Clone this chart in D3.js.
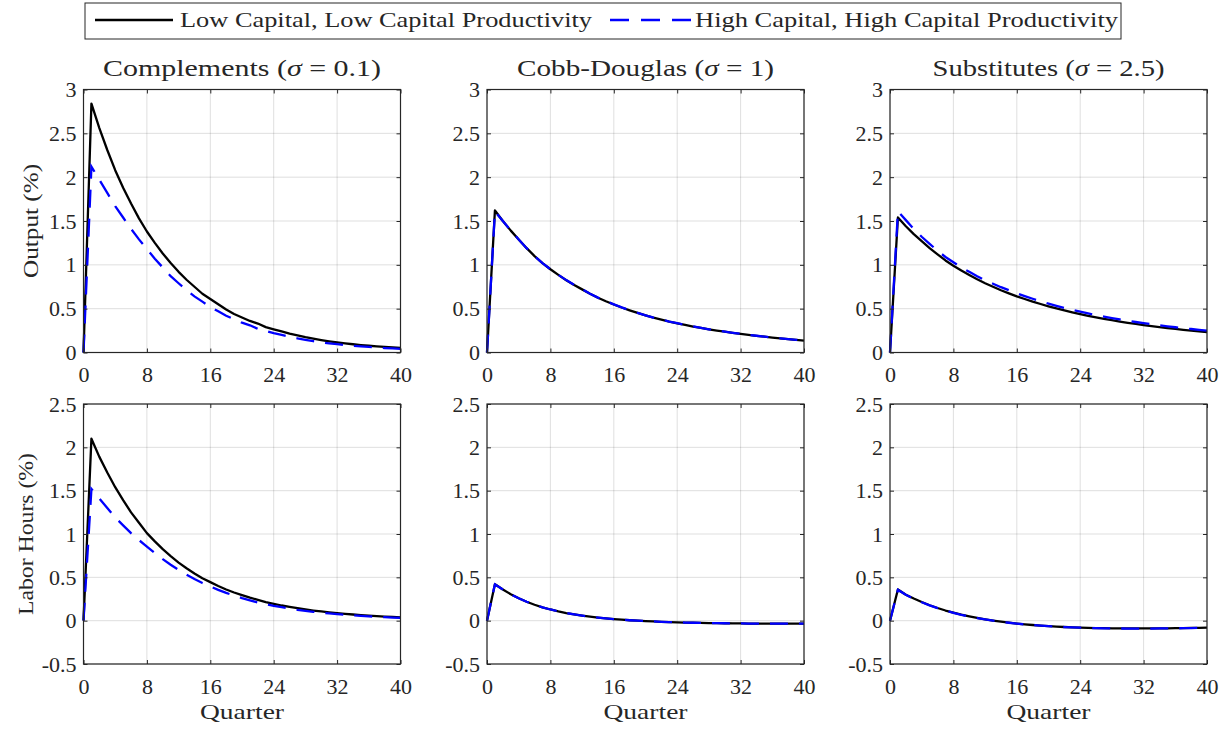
<!DOCTYPE html>
<html>
<head>
<meta charset="utf-8">
<script src="https://cdn.jsdelivr.net/npm/d3@7"></script>
<style>
  html, body { margin: 0; padding: 0; background: #fff; }
  svg { display: block; }
  text { font-family: "Liberation Serif", "Times New Roman", serif; fill: #262626; }
</style>
</head>
<body>
<svg id="chart" width="1230" height="730"></svg>
<script>
// ---------------- DATA ----------------
const quarters = [0,1,2,3,4,5,6,7,8,9,10,11,12,13,14,15,16,17,18,19,20,21,22,23,24,25,26,27,28,29,30,31,32,33,34,35,36,37,38,39,40];

const seriesNames = ["Low Capital, Low Capital Productivity", "High Capital, High Capital Productivity"];
const panelTitles = ["Complements", "Cobb-Douglas", "Substitutes"];
const sigmaValues = ["0.1", "1", "2.5"];
const rowLabels = ["Output (%)", "Labor Hours (%)"];
const xLabel = "Quarter";

const xTicks = [0, 8, 16, 24, 32, 40];
const yTicksOutput = [0, 0.5, 1, 1.5, 2, 2.5, 3];
const yTicksHours = [-0.5, 0, 0.5, 1, 1.5, 2, 2.5];

// Output responses
const compOutLow  = [0, 2.84, 2.56, 2.31, 2.08, 1.88, 1.70, 1.53, 1.38, 1.25, 1.13, 1.02, 0.92, 0.83, 0.75, 0.67, 0.61, 0.55, 0.49, 0.44, 0.40, 0.36, 0.33, 0.29, 0.265, 0.24, 0.215, 0.195, 0.175, 0.158, 0.142, 0.128, 0.115, 0.104, 0.094, 0.085, 0.077, 0.070, 0.063, 0.057, 0.052];
const compOutHigh = [0, 2.12, 1.97, 1.82, 1.67, 1.54, 1.41, 1.29, 1.18, 1.07, 0.97, 0.87, 0.79, 0.71, 0.64, 0.58, 0.52, 0.47, 0.42, 0.38, 0.34, 0.31, 0.27, 0.245, 0.22, 0.20, 0.18, 0.16, 0.145, 0.13, 0.115, 0.105, 0.095, 0.085, 0.077, 0.070, 0.063, 0.057, 0.051, 0.046, 0.041];
const cdOutLow    = [0, 1.62, 1.50, 1.39, 1.29, 1.19, 1.10, 1.02, 0.95, 0.885, 0.825, 0.77, 0.72, 0.67, 0.625, 0.585, 0.548, 0.513, 0.481, 0.451, 0.423, 0.397, 0.374, 0.352, 0.333, 0.314, 0.296, 0.280, 0.264, 0.250, 0.237, 0.224, 0.212, 0.201, 0.190, 0.180, 0.170, 0.161, 0.152, 0.144, 0.136];
const cdOutHigh   = [0, 1.61, 1.50, 1.39, 1.29, 1.19, 1.10, 1.02, 0.95, 0.886, 0.826, 0.771, 0.721, 0.671, 0.626, 0.586, 0.549, 0.514, 0.482, 0.452, 0.424, 0.398, 0.375, 0.353, 0.334, 0.315, 0.297, 0.281, 0.265, 0.251, 0.238, 0.225, 0.213, 0.202, 0.191, 0.181, 0.171, 0.162, 0.153, 0.145, 0.137];
const subOutLow   = [0, 1.54, 1.44, 1.35, 1.27, 1.19, 1.12, 1.05, 0.99, 0.935, 0.885, 0.835, 0.79, 0.75, 0.71, 0.675, 0.64, 0.61, 0.58, 0.553, 0.527, 0.503, 0.48, 0.458, 0.438, 0.419, 0.401, 0.384, 0.368, 0.353, 0.339, 0.326, 0.313, 0.301, 0.29, 0.279, 0.269, 0.259, 0.25, 0.241, 0.233];
const subOutHigh  = [0, 1.61, 1.51, 1.41, 1.32, 1.24, 1.16, 1.09, 1.03, 0.97, 0.92, 0.87, 0.825, 0.785, 0.745, 0.71, 0.675, 0.643, 0.613, 0.585, 0.558, 0.533, 0.509, 0.487, 0.466, 0.446, 0.427, 0.41, 0.393, 0.377, 0.362, 0.348, 0.335, 0.322, 0.31, 0.299, 0.288, 0.278, 0.268, 0.259, 0.25];

// Labor hours responses
const compHrsLow  = [0, 2.10, 1.89, 1.71, 1.54, 1.39, 1.25, 1.13, 1.01, 0.915, 0.825, 0.745, 0.67, 0.605, 0.545, 0.49, 0.445, 0.40, 0.36, 0.325, 0.295, 0.265, 0.24, 0.215, 0.195, 0.175, 0.16, 0.145, 0.13, 0.117, 0.106, 0.096, 0.087, 0.078, 0.071, 0.064, 0.058, 0.052, 0.047, 0.043, 0.039];
const compHrsHigh = [0, 1.52, 1.41, 1.30, 1.19, 1.10, 1.01, 0.93, 0.855, 0.78, 0.71, 0.645, 0.585, 0.53, 0.48, 0.435, 0.395, 0.355, 0.32, 0.29, 0.26, 0.235, 0.21, 0.19, 0.17, 0.155, 0.14, 0.125, 0.113, 0.102, 0.092, 0.083, 0.075, 0.068, 0.061, 0.055, 0.05, 0.045, 0.04, 0.036, 0.033];
const cdHrsLow    = [0, 0.42, 0.36, 0.305, 0.258, 0.218, 0.184, 0.154, 0.129, 0.107, 0.088, 0.072, 0.058, 0.046, 0.035, 0.026, 0.018, 0.011, 0.005, 0.0, -0.005, -0.009, -0.013, -0.016, -0.019, -0.022, -0.024, -0.026, -0.028, -0.029, -0.030, -0.031, -0.032, -0.033, -0.033, -0.034, -0.034, -0.034, -0.034, -0.034, -0.034];
const cdHrsHigh   = [0, 0.42, 0.36, 0.305, 0.258, 0.218, 0.184, 0.154, 0.129, 0.107, 0.088, 0.072, 0.058, 0.046, 0.035, 0.026, 0.018, 0.011, 0.005, 0.0, -0.005, -0.009, -0.013, -0.016, -0.019, -0.022, -0.024, -0.026, -0.028, -0.029, -0.030, -0.031, -0.032, -0.033, -0.033, -0.034, -0.034, -0.034, -0.034, -0.034, -0.034];
const subHrsLow   = [0, 0.36, 0.30, 0.255, 0.215, 0.178, 0.146, 0.117, 0.092, 0.069, 0.049, 0.031, 0.015, 0.001, -0.012, -0.023, -0.033, -0.042, -0.05, -0.057, -0.063, -0.068, -0.073, -0.077, -0.08, -0.083, -0.085, -0.087, -0.088, -0.089, -0.09, -0.09, -0.09, -0.09, -0.089, -0.088, -0.087, -0.086, -0.084, -0.083, -0.081];
const subHrsHigh  = [0, 0.355, 0.298, 0.253, 0.213, 0.177, 0.145, 0.116, 0.091, 0.068, 0.048, 0.03, 0.014, 0.0, -0.013, -0.024, -0.034, -0.043, -0.051, -0.058, -0.064, -0.069, -0.074, -0.078, -0.081, -0.084, -0.086, -0.088, -0.089, -0.09, -0.091, -0.091, -0.091, -0.091, -0.09, -0.089, -0.088, -0.087, -0.085, -0.084, -0.082];

// ---------------- LAYOUT ----------------
const svg = d3.select("#chart");
const colLeft = [83.5, 487, 890];
const panelW = 317;
const rowTop = [89.5, 404];
const panelH = [263, 260];
const yDomains = [[0, 3], [-0.5, 2.5]];
const yTickSets = [yTicksOutput, yTicksHours];
const dataGrid = [
  [[compOutLow, compOutHigh], [cdOutLow, cdOutHigh], [subOutLow, subOutHigh]],
  [[compHrsLow, compHrsHigh], [cdHrsLow, cdHrsHigh], [subHrsLow, subHrsHigh]]
];
const titleLengths = [278, 257, 232];
const rowLabelLengths = [114, 162];
const axisColor = "#262626";
const fontSize = 22;
const fmt = d => String(d);

for (let r = 0; r < 2; r++) {
  for (let c = 0; c < 3; c++) {
    const x0 = colLeft[c], y0 = rowTop[r], h = panelH[r];
    const x = d3.scaleLinear().domain([0, 40]).range([x0, x0 + panelW]);
    const y = d3.scaleLinear().domain(yDomains[r]).range([y0 + h, y0]);
    const g = svg.append("g");

    g.append("rect").attr("x", x0).attr("y", y0).attr("width", panelW).attr("height", h).attr("fill", "#fff");

    // grid
    g.selectAll(".gx").data(xTicks).enter().append("line")
      .attr("x1", d => x(d)).attr("x2", d => x(d)).attr("y1", y0).attr("y2", y0 + h)
      .attr("stroke", axisColor).attr("stroke-opacity", 0.15).attr("stroke-width", 1);
    g.selectAll(".gy").data(yTickSets[r]).enter().append("line")
      .attr("x1", x0).attr("x2", x0 + panelW).attr("y1", d => y(d)).attr("y2", d => y(d))
      .attr("stroke", axisColor).attr("stroke-opacity", 0.15).attr("stroke-width", 1);

    // lines
    const [low, high] = dataGrid[r][c];
    const line = d3.line().x((d, i) => x(quarters[i])).y(d => y(d));
    g.append("path").datum(low).attr("d", line).attr("fill", "none")
      .attr("stroke", "#000").attr("stroke-width", 2.3).attr("stroke-linejoin", "round");
    g.append("path").datum(high).attr("d", line).attr("fill", "none")
      .attr("stroke", "#0000ff").attr("stroke-width", 2.3).attr("stroke-dasharray", "18,11");

    // axes
    const ax = [
      g.append("g").attr("transform", `translate(0,${y0 + h})`).call(d3.axisBottom(x).tickValues(xTicks).tickSizeInner(-4).tickSizeOuter(0).tickPadding(14).tickFormat(fmt)),
      g.append("g").attr("transform", `translate(0,${y0})`).call(d3.axisTop(x).tickValues(xTicks).tickSizeInner(-4).tickSizeOuter(0).tickFormat("")),
      g.append("g").attr("transform", `translate(${x0},0)`).call(d3.axisLeft(y).tickValues(yTickSets[r]).tickSizeInner(-4).tickSizeOuter(0).tickPadding(7).tickFormat(fmt)),
      g.append("g").attr("transform", `translate(${x0 + panelW},0)`).call(d3.axisRight(y).tickValues(yTickSets[r]).tickSizeInner(-4).tickSizeOuter(0).tickFormat(""))
    ];
    ax.forEach(a => {
      a.select(".domain").remove();
      a.selectAll("line").attr("stroke", axisColor);
      a.selectAll("text").attr("font-size", fontSize).attr("fill", axisColor);
    });

    g.append("rect").attr("x", x0).attr("y", y0).attr("width", panelW).attr("height", h)
      .attr("fill", "none").attr("stroke", axisColor).attr("stroke-width", 1.2);

    // titles
    if (r === 0) {
      const t = g.append("text").attr("x", x0 + panelW / 2).attr("y", 76)
        .attr("text-anchor", "middle").attr("font-size", 23).attr("fill", "#000")
        .attr("textLength", titleLengths[c]).attr("lengthAdjust", "spacingAndGlyphs");
      t.append("tspan").text(panelTitles[c] + " (");
      t.append("tspan").attr("font-style", "italic").text("σ");
      t.append("tspan").text(" = " + sigmaValues[c] + ")");
    }
    if (r === 1) {
      g.append("text").attr("x", x0 + panelW / 2).attr("y", 719)
        .attr("text-anchor", "middle").attr("font-size", fontSize).attr("fill", axisColor)
        .attr("textLength", 84).attr("lengthAdjust", "spacingAndGlyphs").text(xLabel);
    }
    if (c === 0) {
      const lx = r === 0 ? 38 : 33;
      g.append("text").attr("transform", `translate(${lx},${y0 + h / 2}) rotate(-90)`)
        .attr("text-anchor", "middle").attr("font-size", fontSize).attr("fill", axisColor)
        .attr("textLength", rowLabelLengths[r]).attr("lengthAdjust", "spacingAndGlyphs").text(rowLabels[r]);
    }
  }
}

// ---------------- LEGEND ----------------
const lg = svg.append("g");
lg.append("rect").attr("x", 85).attr("y", 3).attr("width", 1036).attr("height", 36)
  .attr("fill", "#fff").attr("stroke", axisColor).attr("stroke-width", 1);
lg.append("line").attr("x1", 95).attr("x2", 173).attr("y1", 20).attr("y2", 20)
  .attr("stroke", "#000").attr("stroke-width", 2.3);
lg.append("text").attr("x", 180).attr("y", 27).attr("font-size", fontSize).attr("fill", "#000")
  .attr("textLength", 412).attr("lengthAdjust", "spacingAndGlyphs").text(seriesNames[0]);
lg.append("line").attr("x1", 610).attr("x2", 691).attr("y1", 20).attr("y2", 20)
  .attr("stroke", "#0000ff").attr("stroke-width", 2.3).attr("stroke-dasharray", "19,12");
lg.append("text").attr("x", 695).attr("y", 27).attr("font-size", fontSize).attr("fill", "#000")
  .attr("textLength", 423).attr("lengthAdjust", "spacingAndGlyphs").text(seriesNames[1]);
</script>
</body>
</html>
